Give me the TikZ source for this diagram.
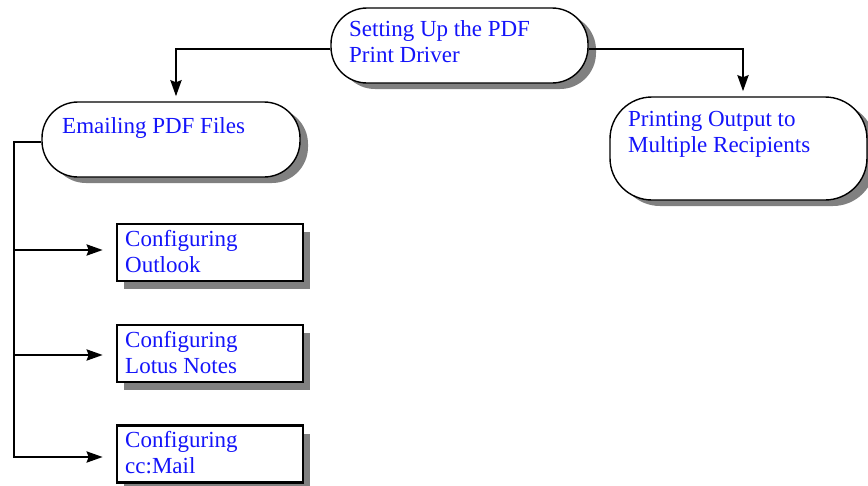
\documentclass[tikz,border=0pt]{standalone}
\usepackage{fontspec}
\setmainfont{Liberation Serif}
\usetikzlibrary{arrows.meta,shadows}
\definecolor{txtblue}{RGB}{20,20,250}
\definecolor{shad}{RGB}{128,128,128}
\tikzset{
  pill/.style={draw=black, line width=1.4pt, fill=white, rounded corners=#1,
    inner sep=0pt, drop shadow={shadow xshift=8pt, shadow yshift=-6pt, fill=shad, opacity=1}},
  boxnode/.style={draw=black, line width=2.6pt, fill=white, inner sep=0pt,
    minimum width=186pt, minimum height=57pt,
    drop shadow={shadow xshift=7pt, shadow yshift=-8pt, fill=shad, opacity=1}},
  lbl/.style={anchor=base west, inner sep=0pt, text=txtblue,
    font=\fontsize{23}{26.5}\selectfont},
  conn/.style={line width=2.6pt, -{Stealth[length=16pt,width=11pt,inset=2pt]}},
}
\newcommand{\twolines}[2]{\vtop{\hbox{#1}\hbox{#2}}}
\begin{document}
\begin{tikzpicture}[x=1pt,y=-1pt]
\useasboundingbox (0,0) rectangle (868,485);
% rounded nodes
\node[pill=36pt, minimum width=257pt, minimum height=75pt] (setup) at (459.5,45.5) {};
\node[pill=36pt, minimum width=258pt, minimum height=75pt] (email) at (171,139.5) {};
\node[pill=42pt, minimum width=257pt, minimum height=103pt] (print) at (738.5,148.5) {};
% boxes
\node[boxnode] (outlook) at (210,252.5) {};
\node[boxnode] (lotus) at (210,353.5) {};
\node[boxnode] (ccmail) at (210,454) {};
% texts
\node[lbl] (tsetup) at (349,36) {\twolines{Setting Up the PDF}{Print Driver}};
\node[lbl] (temail) at (62,133) {Emailing PDF Files};
\node[lbl] (tprint) at (628,126) {\twolines{Printing Output to}{Multiple Recipients}};
\node[lbl] (toutlook) at (125,246) {\twolines{Configuring}{Outlook}};
\node[lbl] (tlotus) at (125,347) {\twolines{Configuring}{Lotus Notes}};
\node[lbl] (tccmail) at (125,447) {\twolines{Configuring}{cc:Mail}};
% connectors
\coordinate (sl) at (setup.west |- 0,49);
\coordinate (sr) at (setup.east |- 0,49);
\coordinate (el) at (email.west |- 0,142);
\coordinate (trunk) at (14,142);
\draw[conn, shorten >=5pt] (sl) -| (176,0 |- email.north);
\draw[conn, shorten >=5pt] (sr) -| (743,0 |- print.north);
\draw[line width=2.6pt] (el) -- (trunk) -- (14,457);
\draw[conn, shorten >=13pt] (14,250) -- (outlook.west |- 0,250);
\draw[conn, shorten >=13pt] (14,355) -- (lotus.west |- 0,355);
\draw[conn, shorten >=13pt] (trunk) |- (ccmail.west |- 0,457);
\end{tikzpicture}
\end{document}
